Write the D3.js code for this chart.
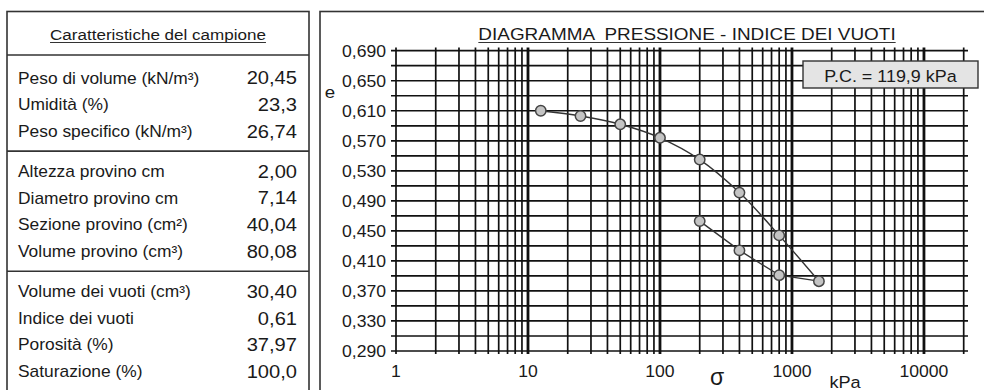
<!DOCTYPE html>
<html>
<head>
<meta charset="utf-8">
<script src="https://cdn.jsdelivr.net/npm/d3@7"></script>
<style>
  body { margin: 0; background: #fff; }
  svg { display: block; }
  text { font-family: "Liberation Sans", Arial, Helvetica, sans-serif; fill: #1a1a1a; white-space: pre; }
</style>
</head>
<body>
<svg id="chart" width="984" height="390"></svg>
<script>
// Sample properties (left table)
const sampleTitle = "Caratteristiche del campione";
const sampleLabels = [
  "Peso di volume (kN/m³)", "Umidità (%)", "Peso specifico (kN/m³)",
  "Altezza provino cm", "Diametro provino cm", "Sezione provino (cm²)", "Volume provino (cm³)",
  "Volume dei vuoti (cm³)", "Indice dei vuoti", "Porosità (%)", "Saturazione (%)"
];
const sampleValues = ["20,45", "23,3", "26,74", "2,00", "7,14", "40,04", "80,08", "30,40", "0,61", "37,97", "100,0"];
const groupSizes = [3, 4, 4];

// Oedometer test: vertical stress (kPa) and void ratio
const loadSigma   = [12.5, 25, 50, 100, 200, 400, 800, 1600];
const loadVoid    = [0.610, 0.603, 0.592, 0.574, 0.545, 0.501, 0.444, 0.383];
const unloadSigma = [1600, 800, 400, 200];
const unloadVoid  = [0.383, 0.391, 0.424, 0.463];

const chartTitle = "DIAGRAMMA  PRESSIONE - INDICE DEI VUOTI";
const yTickValues = [0.690, 0.650, 0.610, 0.570, 0.530, 0.490, 0.450, 0.410, 0.370, 0.330, 0.290];
const xTickValues = [1, 10, 100, 1000, 10000];
const preconsolidation = "119,9";

const svg = d3.select("#chart");
const SX = 1.1; // horizontal text stretch

function label(parent, x, y, str, size, anchor) {
  return parent.append("text")
    .attr("transform", `translate(${x},${y}) scale(${SX},1)`)
    .attr("font-size", size)
    .attr("text-anchor", anchor || "start")
    .text(str);
}

// ---------- left table ----------
const tbl = svg.append("g");
tbl.append("rect").attr("x", 7).attr("y", 11.5).attr("width", 302).attr("height", 400)
  .attr("fill", "#fff").attr("stroke", "#333").attr("stroke-width", 1.6);
const tTitle = label(tbl, 158, 40, sampleTitle, 15.5, "middle");
const tw = tTitle.node().getComputedTextLength() * SX;
tbl.append("line").attr("x1", 158 - tw / 2).attr("x2", 158 + tw / 2).attr("y1", 42.5).attr("y2", 42.5)
  .attr("stroke", "#333").attr("stroke-width", 1);
tbl.append("line").attr("x1", 7).attr("x2", 309).attr("y1", 55).attr("y2", 55)
  .attr("stroke", "#333").attr("stroke-width", 1.6);

const rowPitch = 26.7, groupGap = 13.3, firstRow = 77.7;
let idx = 0;
groupSizes.forEach((n, g) => {
  for (let k = 0; k < n; k++, idx++) {
    const cy = firstRow + idx * rowPitch + g * groupGap;
    label(tbl, 18, cy + 5.8, sampleLabels[idx], 15.8, "start");
    label(tbl, 297, cy + 6.6, sampleValues[idx], 18.3, "end");
  }
  if (g < groupSizes.length - 1) {
    const lastY = firstRow + (idx - 1) * rowPitch + g * groupGap;
    const sepY = lastY + (rowPitch + groupGap) / 2;
    tbl.append("line").attr("x1", 7).attr("x2", 309).attr("y1", sepY).attr("y2", sepY)
      .attr("stroke", "#333").attr("stroke-width", 1.6);
  }
});

// ---------- chart frame ----------
svg.append("rect").attr("x", 320).attr("y", 11.5).attr("width", 700).attr("height", 400)
  .attr("fill", "#fff").attr("stroke", "#333").attr("stroke-width", 1.6);

const x = d3.scaleLog().domain([1, 20000]).range([396, 963.7]);
const y = d3.scaleLinear().domain([0.29, 0.69]).range([351, 50.7]);

// title
const cTitle = label(svg, 687, 39.5, chartTitle, 17.2, "middle");
const cw = cTitle.node().getComputedTextLength() * SX;
svg.append("line").attr("x1", 687 - cw / 2).attr("x2", 687 + cw / 2).attr("y1", 42.5).attr("y2", 42.5)
  .attr("stroke", "#333").attr("stroke-width", 1.1);

// grid
const grid = svg.append("g");
const hLines = d3.range(0.29, 0.6901, 0.02);
grid.selectAll(".h").data(hLines).join("line")
  .attr("x1", 391).attr("x2", 968)
  .attr("y1", d => y(d)).attr("y2", d => y(d))
  .attr("stroke", "#111").attr("stroke-width", 1.7);

const vLines = [];
for (let p = 0; p < 4; p++) for (let m = 1; m <= 9; m++) vLines.push(m * Math.pow(10, p));
vLines.push(10000, 20000);
grid.selectAll(".v").data(vLines).join("line")
  .attr("x1", d => x(d)).attr("x2", d => x(d))
  .attr("y1", 47.5).attr("y2", 354)
  .attr("stroke", "#111")
  .attr("stroke-width", d => (d > 1 && Math.abs(Math.log10(d) % 1) < 1e-9) ? 2.8 : 1.7);

// y axis labels
yTickValues.forEach(v => {
  label(svg, 386, y(v) + 6, d3.format(".3f")(v).replace(".", ","), 16, "end");
});
label(svg, 330, 97.5, "e", 17, "middle");

// x axis labels
xTickValues.forEach(v => {
  label(svg, x(v), 376.5, String(v), 16, "middle");
});
svg.append("text").attr("x", 717).attr("y", 385)
  .attr("font-family", "'Liberation Serif', 'Times New Roman', serif")
  .attr("font-size", 23).attr("text-anchor", "middle").text("σ");
label(svg, 845, 387.5, "kPa", 16.5, "middle");

// preconsolidation pressure box
svg.append("rect").attr("x", 803).attr("y", 61).attr("width", 175).attr("height", 27)
  .attr("fill", "#e4e4e4").attr("stroke", "#333").attr("stroke-width", 1.4);
label(svg, 890.5, 81.5, `P.C. = ${preconsolidation} kPa`, 16.3, "middle");

// compression curve: smooth loading branch, straight unloading branch
const loadPts = loadSigma.map((s, i) => [x(s), y(loadVoid[i])]);
const unloadPts = unloadSigma.map((s, i) => [x(s), y(unloadVoid[i])]);
svg.append("path")
  .attr("d", d3.line().curve(d3.curveCatmullRom.alpha(0.5))(loadPts))
  .attr("fill", "none").attr("stroke", "#333").attr("stroke-width", 1.4);
svg.append("path")
  .attr("d", d3.line()(unloadPts))
  .attr("fill", "none").attr("stroke", "#333").attr("stroke-width", 1.4);
const allPts = loadPts.concat(unloadPts.slice(1));
svg.selectAll(".pt").data(allPts).join("circle")
  .attr("cx", d => d[0]).attr("cy", d => d[1]).attr("r", 5.2)
  .attr("fill", "#c4c4c4").attr("stroke", "#444").attr("stroke-width", 1.5);
</script>
</body>
</html>
